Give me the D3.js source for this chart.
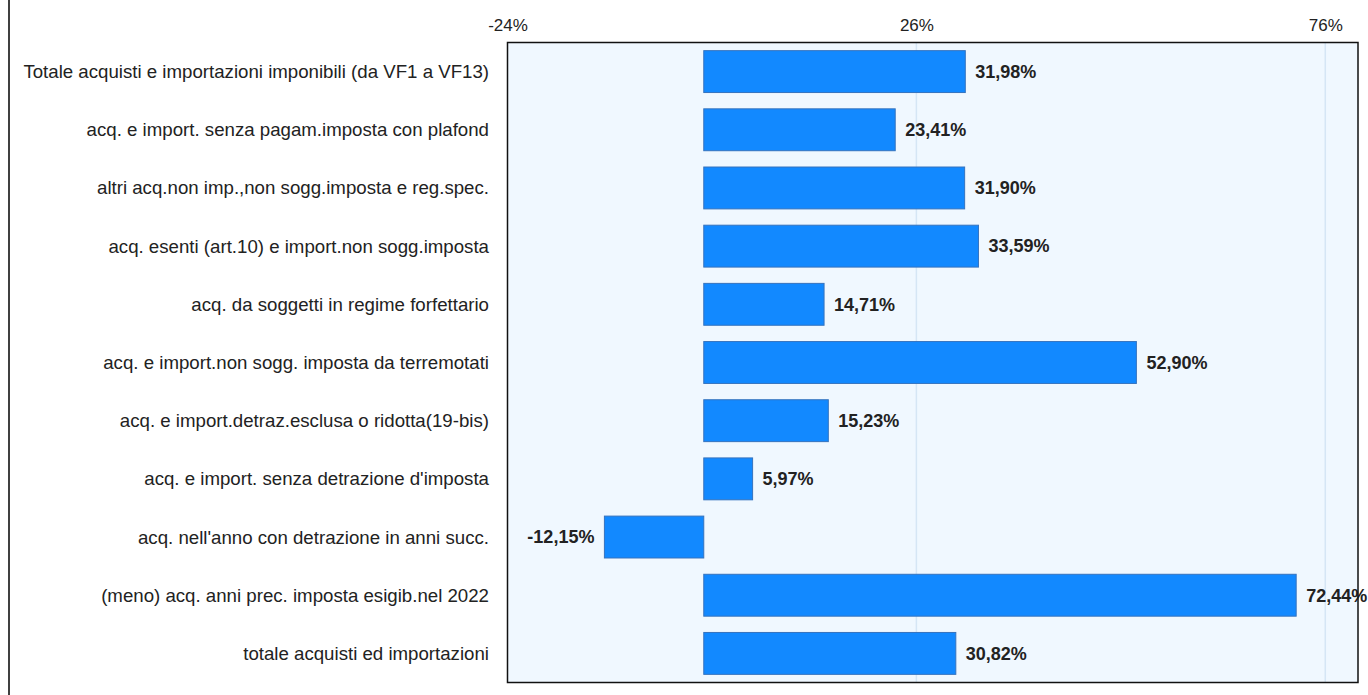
<!DOCTYPE html>
<html>
<head>
<meta charset="utf-8">
<script src="https://cdn.jsdelivr.net/npm/d3@7"></script>
<style>
  body { margin: 0; background: #fff; }
  svg { display: block; font-family: "Liberation Sans", Arial, sans-serif; }
</style>
</head>
<body>
<div id="chart"></div>
<script>
const categories = [
  "Totale acquisti e importazioni imponibili (da VF1 a VF13)",
  "acq. e import. senza pagam.imposta con plafond",
  "altri acq.non imp.,non sogg.imposta e reg.spec.",
  "acq. esenti (art.10) e import.non sogg.imposta",
  "acq. da soggetti in regime forfettario",
  "acq. e import.non sogg. imposta da terremotati",
  "acq. e import.detraz.esclusa o ridotta(19-bis)",
  "acq. e import. senza detrazione d'imposta",
  "acq. nell'anno con detrazione in anni succ.",
  "(meno) acq. anni prec. imposta esigib.nel 2022",
  "totale acquisti ed importazioni"
];
const values = [31.98, 23.41, 31.90, 33.59, 14.71, 52.90, 15.23, 5.97, -12.15, 72.44, 30.82];
const xTicks = [-24, 26, 76];
const xDomain = [-24, 80];

const width = 1368;
const height = 695;
const marginTop = 42.5;
const marginRight = 10;
const marginBottom = 12.5;
const marginLeft = 507.5;

const fmt = v => v.toFixed(2).replace(".", ",") + "%";

const x = d3.scaleLinear()
    .domain(xDomain)
    .range([marginLeft, width - marginRight]);

const y = d3.scaleBand()
    .domain(categories)
    .range([marginTop, height - marginBottom])
    .paddingInner(0.28)
    .paddingOuter(0.14);

const svg = d3.create("svg")
    .attr("width", width)
    .attr("height", height);

// left border of the page
svg.append("line")
    .attr("x1", 9).attr("x2", 9)
    .attr("y1", 0).attr("y2", height)
    .attr("stroke", "#000")
    .attr("stroke-width", 1.5);

// plot background
svg.append("rect")
    .attr("x", marginLeft)
    .attr("y", marginTop)
    .attr("width", width - marginRight - marginLeft)
    .attr("height", height - marginBottom - marginTop)
    .attr("fill", "#f0f8ff");

// gridlines
svg.append("g")
    .selectAll("line")
    .data(xTicks.slice(1))
    .join("line")
    .attr("x1", d => x(d)).attr("x2", d => x(d))
    .attr("y1", marginTop).attr("y2", height - marginBottom)
    .attr("stroke", "#d5e6f5")
    .attr("stroke-width", 1.5);

// top axis
const axis = svg.append("g")
    .attr("transform", `translate(0, ${marginTop})`)
    .call(d3.axisTop(x).tickValues(xTicks).tickFormat(d => d + "%").tickSize(0).tickPadding(12));
axis.select(".domain").remove();
axis.selectAll("text")
    .attr("font-size", 17)
    .attr("font-family", "Liberation Sans, Arial, sans-serif")
    .attr("fill", "#222");

// bars
svg.append("g")
    .selectAll("rect")
    .data(values)
    .join("rect")
    .attr("x", d => x(Math.min(0, d)))
    .attr("y", (d, i) => y(categories[i]))
    .attr("width", d => Math.abs(x(d) - x(0)))
    .attr("height", y.bandwidth())
    .attr("fill", "#1289ff")
    .attr("stroke", "#3573be")
    .attr("stroke-width", 1);

// value labels
svg.append("g")
    .selectAll("text")
    .data(values)
    .join("text")
    .attr("x", d => d >= 0 ? x(d) + 10 : x(d) - 10)
    .attr("y", (d, i) => y(categories[i]) + y.bandwidth() / 2)
    .attr("dy", "0.35em")
    .attr("text-anchor", d => d >= 0 ? "start" : "end")
    .attr("font-size", 18)
    .attr("font-weight", "bold")
    .attr("fill", "#222")
    .text(fmt);

// category labels
svg.append("g")
    .selectAll("text")
    .data(categories)
    .join("text")
    .attr("x", 489)
    .attr("y", d => y(d) + y.bandwidth() / 2)
    .attr("dy", "0.35em")
    .attr("text-anchor", "end")
    .attr("font-size", 18.67)
    .attr("fill", "#222")
    .text(d => d);

// plot frame
svg.append("rect")
    .attr("x", marginLeft)
    .attr("y", marginTop)
    .attr("width", width - marginRight - marginLeft)
    .attr("height", height - marginBottom - marginTop)
    .attr("fill", "none")
    .attr("stroke", "#111")
    .attr("stroke-width", 1.5);

document.getElementById("chart").append(svg.node());
</script>
</body>
</html>
